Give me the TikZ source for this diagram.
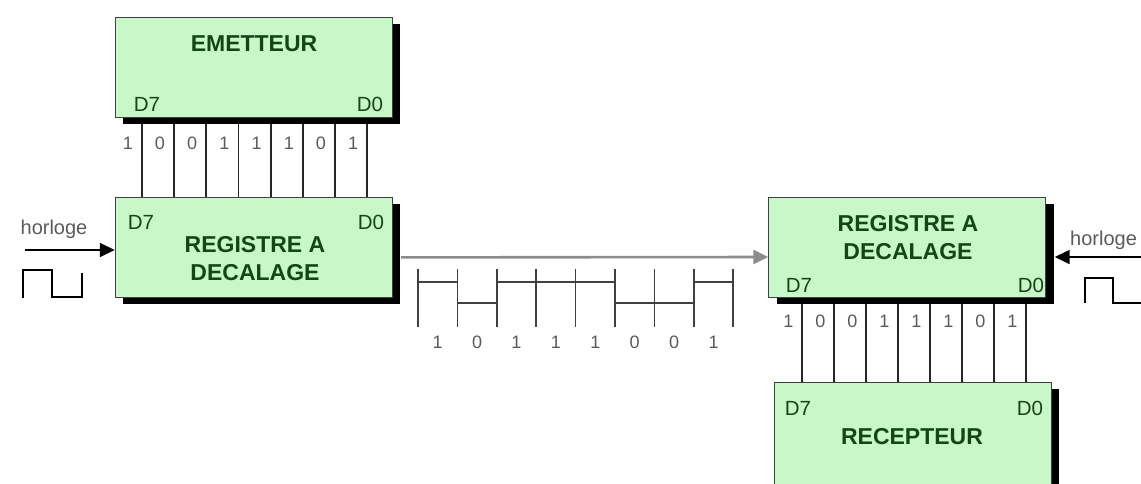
\documentclass[tikz,border=0pt]{standalone}
\usepackage{fontspec}
\setmainfont{Liberation Sans}
\usetikzlibrary{arrows.meta,positioning}
\definecolor{vertclair}{RGB}{200,247,200}
\definecolor{vertfonce}{RGB}{20,70,20}
\definecolor{grisbit}{RGB}{90,90,90}
\definecolor{grisligne}{RGB}{140,140,140}
\tikzset{
  bloc/.style={
    draw=black!75,
    fill=vertclair,
    minimum width=277pt,
    minimum height=100pt,
    inner sep=0pt,
    preaction={fill=black, transform canvas={xshift=8pt, yshift=-7pt}}
  },
  titre/.style={
    font=\fontsize{23}{28}\selectfont\bfseries,
    text=vertfonce,
    align=center,
    inner sep=0pt
  },
  borne/.style={
    font=\fontsize{20.5}{22}\selectfont,
    text=vertfonce,
    inner sep=0pt
  },
  bit/.style={
    font=\fontsize{18}{20}\selectfont,
    text=grisbit,
    inner sep=0pt
  },
  horl/.style={
    font=\fontsize{20}{22}\selectfont,
    text=grisbit,
    inner sep=0pt
  },
  fil/.style={line width=1.8pt, black!85},
  fleche/.style={-{Triangle[length=15pt,width=14pt]}, line width=1.6pt},
  signal/.style={line width=1.5pt, black!75}
}

\begin{document}
\begin{tikzpicture}[x=1pt,y=-1pt]
\useasboundingbox (0,0) rectangle (1141,483);
\clip (0,0) rectangle (1141,483);
% emetteur et registre de depart
\node[bloc] (emet) at (253.5,67) {};
\node[bloc, below=80pt of emet] (regA) {};
\node[titre] (temet) at (254,44) {EMETTEUR};
\node[borne] (e7) at (147,104) {D7};
\node[borne] (e0) at (370,104) {D0};
\node[titre] (tregA) at (255,259) {REGISTRE A\\DECALAGE};
\node[borne] (a7) at (141,222) {D7};
\node[borne] (a0) at (371,222) {D0};
% registre d'arrivee et recepteur
\node[bloc] (regB) at (907,247) {};
\node[bloc, below=85pt of regB, xshift=5.5pt, minimum height=110pt] (recep) {};
\node[titre] (tregB) at (908,238) {REGISTRE A\\DECALAGE};
\node[borne] (b7) at (799,285) {D7};
\node[borne] (b0) at (1031,285) {D0};
\node[titre] (trecep) at (912,437) {RECEPTEUR};
\node[borne] (r7) at (798,408) {D7};
\node[borne] (r0) at (1030,408) {D0};
% liaisons paralleles
\foreach \b [count=\i from 0, evaluate=\i as \dx using 27+32.2*\i] in {1,0,0,1,1,1,0,1} {
  \coordinate (wa\i) at ([xshift=\dx]emet.south west);
  \draw[fil] ([yshift=-7pt]wa\i) -- (wa\i |- regA.north);
  \node[bit] at ([shift={(-14pt,-26pt)}]wa\i) {\b};
}
\foreach \b [count=\i from 0, evaluate=\i as \dx using 34+32*\i] in {1,0,0,1,1,1,0,1} {
  \coordinate (wb\i) at ([xshift=\dx]regB.south west);
  \draw[fil] ([yshift=-7pt]wb\i) -- (wb\i |- recep.north);
  \node[bit] at ([shift={(-14pt,-24pt)}]wb\i) {\b};
}
% liaison serie
\draw[fleche, grisligne, line width=2.6pt] ([shift={(9pt,-10pt)}]regA.east) -- ([yshift=-10pt]regB.west);
\foreach \k in {0,...,8}
  \draw[signal] (418+39.4*\k,269) -- (418+39.4*\k,327);
\draw[signal] (418,282) -- (457.4,282) -- (457.4,303) -- (496.8,303) -- (496.8,282)
  -- (615,282) -- (615,303) -- (693.8,303) -- (693.8,282) -- (733.2,282);
\foreach \b [count=\k from 0] in {1,0,1,1,1,0,0,1}
  \node[bit] at (437.7+39.4*\k,342) {\b};
% horloges
\node[horl] (hg) at (54,229) {horloge};
\coordinate (fg) at (25,250);
\draw[fleche] (fg) -- (fg -| regA.west);
\draw[signal, black] (23,298) -- (23,270) -- (52,270) -- (52,297) -- (82,297) -- (82,273);
\node[horl, anchor=west] (hd) at (1070,240) {horloge};
\coordinate (fd) at (1150,257);
\draw[fleche] (fd) -- ([xshift=9pt]fd -| regB.east);
\draw[signal, black] (1085,303) -- (1085,278) -- (1113,278) -- (1113,303) -- (1150,303);
\end{tikzpicture}
\end{document}
